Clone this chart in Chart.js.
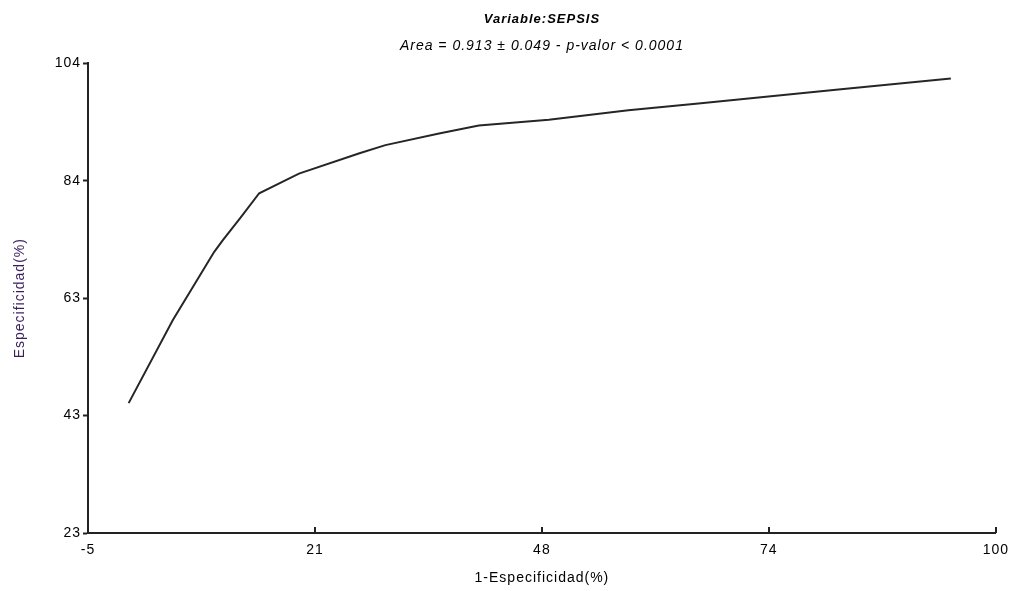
<!DOCTYPE html>
<html>
<head>
<meta charset="utf-8">
<title>Variable:SEPSIS</title>
<script src="https://cdn.jsdelivr.net/npm/chart.js@4"></script>
<style>
    body { margin: 0; background: #fff; }
    canvas { display: block; }
</style>
</head>
<body>
<canvas id="rocChart" width="1018" height="591"></canvas>
<script>
// curve points
const falsePositive = [-0.3, 4.8, 9.6, 10.6, 12.6, 14.8, 19.4, 26.4, 29.4, 35.6, 40.2, 48.3, 57.5, 65.6, 81.8, 94.8];
const sensitivity = [45.4, 59.7, 71.5, 73.5, 77.3, 81.6, 85.0, 88.5, 89.9, 91.9, 93.3, 94.3, 95.9, 97.1, 99.5, 101.4];

// axis ticks (the labels on the picture are rounded)
const xTickValues = [-5, 21.25, 47.5, 73.75, 100];
const xTickLabels = ['-5', '21', '48', '74', '100'];
const yTickValues = [23, 43.25, 63.5, 83.75, 104];
const yTickLabels = ['23', '43', '63', '84', '104'];

const fontFamily = '"Liberation Sans", Arial, sans-serif';

// the original text is a bit spaced out
const spacingPlugin = {
    id: 'spacing',
    beforeUpdate(chart) { chart.ctx.letterSpacing = '1px'; },
    beforeDraw(chart) { chart.ctx.letterSpacing = '1px'; }
};

// x ticks point up into the plot
const innerTicks = {
    id: 'innerTicks',
    afterDraw(chart) {
        const ctx = chart.ctx;
        const x = chart.scales.x;
        const bottom = chart.chartArea.bottom;
        ctx.save();
        ctx.strokeStyle = '#222';
        ctx.lineWidth = 2;
        x.ticks.forEach((t, i) => {
            if (i === 0) return;
            const px = Math.round(x.getPixelForValue(t.value));
            ctx.beginPath();
            ctx.moveTo(px, bottom);
            ctx.lineTo(px, bottom - 6);
            ctx.stroke();
        });
        ctx.restore();
    }
};

const points = falsePositive.map((v, i) => ({ x: v, y: sensitivity[i] }));

const ctx = document.getElementById('rocChart').getContext('2d');
const rocChart = new Chart(ctx, {
    type: 'line',
    data: {
        datasets: [{
            data: points,
            borderColor: '#262626',
            borderWidth: 2,
            pointRadius: 0,
            tension: 0,
            fill: false
        }]
    },
    options: {
        responsive: false,
        animation: false,
        layout: { padding: { left: 4, right: 17, top: 0, bottom: 0 } },
        plugins: {
            legend: { display: false },
            tooltip: { enabled: false },
            title: {
                display: true,
                fullSize: false,
                text: 'Variable:SEPSIS',
                color: '#000',
                font: { family: fontFamily, size: 13, weight: 'bold', style: 'italic' },
                padding: { top: 12, bottom: 0 }
            },
            subtitle: {
                display: true,
                fullSize: false,
                text: 'Area = 0.913 \u00b1 0.049 - p-valor < 0.0001',
                color: '#000',
                font: { family: fontFamily, size: 14, style: 'italic' },
                padding: { top: 10, bottom: 9 }
            }
        },
        scales: {
            x: {
                type: 'linear',
                min: -5,
                max: 100,
                afterBuildTicks: scale => {
                    scale.ticks = xTickValues.map(v => ({ value: v }));
                },
                afterFit: scale => { scale.height = 58; },
                ticks: {
                    autoSkip: false,
                    maxRotation: 0,
                    padding: 9,
                    color: '#000',
                    font: { family: fontFamily, size: 14 },
                    callback: (value, index) => xTickLabels[index]
                },
                grid: { display: false, drawOnChartArea: false, drawTicks: false },
                border: { display: true, color: '#222', width: 2 },
                title: {
                    display: true,
                    text: '1-Especificidad(%)',
                    color: '#000',
                    font: { family: fontFamily, size: 14 },
                    padding: { top: 0, bottom: 4 }
                }
            },
            y: {
                type: 'linear',
                min: 23,
                max: 104,
                afterBuildTicks: scale => {
                    scale.ticks = yTickValues.map(v => ({ value: v }));
                },
                afterFit: scale => { scale.width = 84; },
                ticks: {
                    autoSkip: false,
                    padding: 2,
                    color: '#000',
                    font: { family: fontFamily, size: 14 },
                    callback: (value, index) => yTickLabels[index]
                },
                grid: { drawOnChartArea: false, drawTicks: true, tickLength: 5, color: '#222', tickWidth: 2 },
                border: { display: true, color: '#222', width: 2 },
                title: {
                    display: true,
                    text: 'Especificidad(%)',
                    color: '#3a1f5c',
                    font: { family: fontFamily, size: 14 },
                    padding: { top: 8, bottom: 0 }
                }
            }
        }
    },
    plugins: [spacingPlugin, innerTicks]
});
</script>
</body>
</html>
